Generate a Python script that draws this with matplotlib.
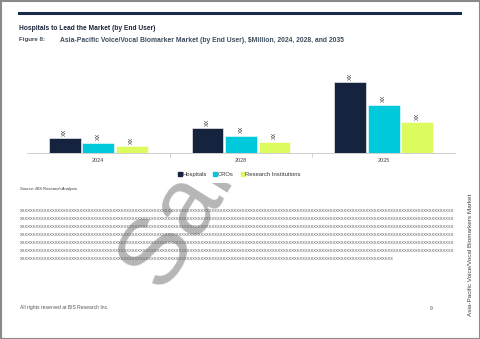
import matplotlib.pyplot as plt
from matplotlib.patches import Rectangle
from matplotlib.lines import Line2D
import numpy as np

plt.rcParams['font.family'] = ['Liberation Sans', 'DejaVu Sans']

# data
years = ['2024', '2028', '2035']
hospitals = [14.4, 24.7, 70.4]
cros = [9.7, 17.0, 47.7]
research = [6.4, 11.0, 30.4]
series_names = ['Hospitals', 'CROs', 'Research Institutions']
colors = ['#16233f', '#00c9dc', '#dcfb5f']

W, H = 480, 339
fig = plt.figure(figsize=(W / 100, H / 100), dpi=100)

def fx(px):
    return px / W

def fy(py):
    return 1 - py / H

# page border
fig.patches.append(Rectangle((0.5 / W, 0.5 / H), 1 - 1 / W, 1 - 1 / H, transform=fig.transFigure,
                             fill=False, edgecolor='#8a8a8a', linewidth=1.5, zorder=5))
# navy header rule
fig.lines.append(Line2D([fx(19), fx(460)], [fy(12.5), fy(12.5)], transform=fig.transFigure,
                        color='#1b2a4a', linewidth=2.2, zorder=5))

# watermark, only visible below the chart block
clip = Rectangle((0, 0), 1, fy(183), transform=fig.transFigure)
wm = fig.text(fx(162), fy(291), 'Sample', fontsize=68, color='#b6b6b6',
              rotation=58, ha='left', va='baseline', rotation_mode='anchor', zorder=1)
wm.set_clip_path(clip)

fig.text(fx(19), fy(29), 'Hospitals to Lead the Market (by End User)', fontsize=4.8,
         fontweight='bold', color='#1b2438', va='center', zorder=3)
fig.text(fx(19), fy(40), 'Figure 8:', fontsize=4.4, fontweight='bold', color='#3d4d5e',
         va='center', zorder=3)
fig.text(fx(60), fy(40), 'Asia-Pacific Voice/Vocal Biomarker Market (by End User), $Million, 2024, 2028, and 2035',
         fontsize=4.85, fontweight='bold', color='#3d4d5e', va='center', zorder=3)

# chart
ax = fig.add_axes([fx(27), fy(152.7), fx(455) - fx(27), 82 / H], zorder=2)
ax.patch.set_alpha(0)
x = np.arange(len(years))
bw = 0.222
step = 0.235
for i, (vals, name, c) in enumerate(zip([hospitals, cros, research], series_names, colors)):
    pos = x + (i - 1) * step
    ax.bar(pos, vals, bw, color=c, label=name, edgecolor='white', linewidth=0.4)
    for p, v in zip(pos, vals):
        ax.text(p, v + 2.5, 'XX', rotation=90, ha='center', va='bottom', fontsize=4,
                color='#333333')
ax.set_xlim(-0.5, 2.5)
ax.set_ylim(0, 82)
ax.set_yticks([])
for s in ['top', 'right', 'left']:
    ax.spines[s].set_visible(False)
ax.spines['bottom'].set_color('#cfcfcf')
ax.spines['bottom'].set_linewidth(0.7)
ax.set_xticks(x)
ax.set_xticklabels(years, fontsize=4, color='#444444')
ax.tick_params(axis='x', length=0, pad=4)
ax.set_xticks([0.5, 1.5], minor=True)
ax.tick_params(axis='x', which='minor', length=3, color='#cfcfcf', width=0.7)

handles = [Line2D([], [], marker='s', linestyle='none', markersize=2.5, color=c) for c in colors]
fig.legend(handles, series_names, loc='center', bbox_to_anchor=(fx(239), fy(174.7)), ncol=3,
           frameon=False, fontsize=4.2, handletextpad=0.05, columnspacing=1.1, handlelength=0.8,
           labelcolor='#333333')

fig.text(fx(20), fy(189), 'Source: BIS Research Analysis', fontsize=3.0, style='italic',
         color='#333333', va='center', zorder=3)

# placeholder body text
line_counts = [158, 158, 158, 158, 158, 158, 136]
for k, n in enumerate(line_counts):
    fig.text(fx(20), fy(210.7 + 8 * k), 'x' * n, fontsize=3.9, color='#6a6a6a',
             va='center', zorder=3)

fig.text(fx(20), fy(308), 'All rights reserved at BIS Research Inc.', fontsize=3.6,
         color='#555555', va='center', zorder=3)
fig.text(fx(431), fy(308), '9', fontsize=3.6, color='#555555', va='center', ha='center', zorder=3)
fig.text(fx(470), fy(255), 'Asia-Pacific Voice/Vocal Biomarkers Market', fontsize=4.6,
         color='#444444', rotation=90, ha='center', va='center', zorder=3)

fig.savefig('out.png', dpi=100)
